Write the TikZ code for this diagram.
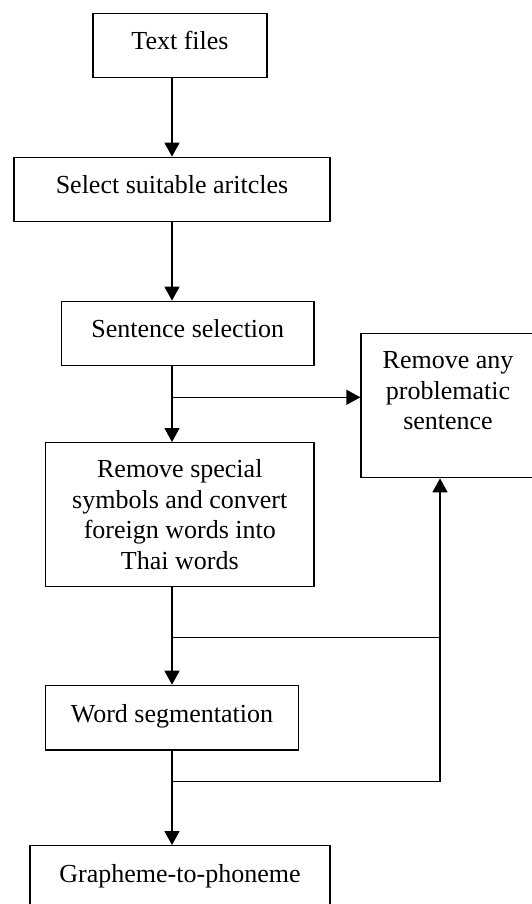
\documentclass[tikz,border=0pt]{standalone}
\usepackage{fontspec}
\setmainfont{Liberation Serif}
\usetikzlibrary{arrows.meta}
\begin{document}
\begin{tikzpicture}[x=1pt,y=-1pt,
  every node/.style={font=\fontsize{26}{30.5}\selectfont},
  box/.style={draw,line width=1.3pt,inner sep=0pt,align=center},
  onebox/.style={box,text height=19pt,text depth=10pt},
  lbl/.style={inner sep=0pt,align=center},
  line/.style={line width=1.3pt},
  arr/.style={line,-{Triangle[length=14pt,width=15pt]}}]
\useasboundingbox (0,0) rectangle (531,904);
% boxes
\node[onebox,minimum width=174pt,minimum height=64pt] (t1) at (180,45.3) {Text files};
\node[onebox,minimum width=316pt,minimum height=64pt] (t2) at (172,189.3) {Select suitable aritcles};
\node[onebox,minimum width=252.3pt,minimum height=64pt] (t3) at (187.8,333.3) {Sentence selection};
\node[box,minimum width=174pt,minimum height=144.4pt] (rm) at (448,405.5) {};
\node[lbl,anchor=north] (rmtxt) at (448,351.7) {Remove any\\problematic\\sentence};
\node[box,minimum width=268.3pt,minimum height=144pt] (t5) at (179.8,514.7) {Remove special\\symbols and convert\\foreign words into\\Thai words};
\node[onebox,minimum width=252.7pt,minimum height=64.7pt] (t6) at (172,717.7) {Word segmentation};
\node[onebox,minimum width=300pt,minimum height=64pt] (t7) at (180,877.7) {Grapheme-to-phoneme};
% junctions
\coordinate (j1) at (172,397.3);
\coordinate (j2) at (172,637.7);
\coordinate (j3) at (172,781.7);
\coordinate (c3) at (440,781.7);
% connectors
\draw[arr] (t1.south -| t2.north) -- (t2.north);
\draw[arr] (t2.south) -- (t3.north -| t2.south);
\draw[arr] (t3.south -| j1) -- (t5.north -| j1);
\draw[arr] (j1) -- (rm.west |- j1);
\draw[arr] (t5.south -| j2) -- (t6.north);
\draw[line] (j2) -- (j2 -| c3);
\draw[arr] (t6.south) -- (t7.north -| t6.south);
\draw[arr] (j3) -- (c3) -- (rm.south -| c3);
\end{tikzpicture}
\end{document}
